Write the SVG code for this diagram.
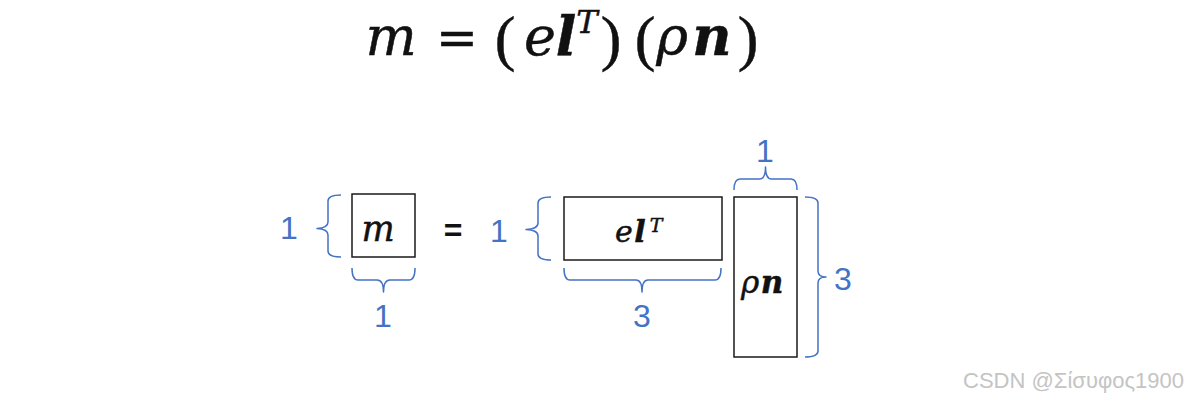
<svg xmlns="http://www.w3.org/2000/svg" width="1187" height="400" viewBox="0 0 1187 400">
<style>
.box{fill:#fff;stroke:#1a1a1a;stroke-width:1.5}
.br{fill:none;stroke:#4472c4;stroke-width:1.5;stroke-linejoin:round}
.num{font-family:"Liberation Sans",Arial,sans-serif;font-size:32px;fill:#4472c4;text-anchor:middle}
.math{font-family:"DejaVu Serif","Liberation Serif",serif;font-style:italic;fill:#111;stroke:#111;stroke-width:0.5}
.b{font-weight:bold}
.p{font-style:normal;font-family:"Liberation Serif",serif;font-size:62px}
.wm{font-family:"Liberation Sans",Arial,sans-serif;font-size:22px;fill:#c4c4c4;text-anchor:end}
</style>
<rect width="1187" height="400" fill="#fff"/>
<g id="title">
<text class="math" font-size="54" y="55" text-anchor="middle"><tspan x="391">m</tspan><tspan x="457" font-style="normal" font-size="50">=</tspan><tspan x="505" y="59" class="p">(</tspan><tspan x="540" y="55">e</tspan><tspan x="566" class="b">l</tspan><tspan x="587" y="33" font-size="32">T</tspan><tspan x="611" y="59" class="p">)</tspan><tspan x="645" class="p">(</tspan><tspan x="672" y="55">ρ</tspan><tspan x="712" class="b">n</tspan><tspan x="748" y="59" class="p">)</tspan></text>
</g>
<g id="node-m">
<rect class="box" x="352" y="194" width="63" height="63"/>
<text class="math" font-size="35" x="378" y="241" text-anchor="middle">m</text>
</g>
<g id="equals">
<text font-family="Liberation Sans,Arial,sans-serif" font-size="32" font-weight="bold" x="453" y="241" text-anchor="middle" fill="#111">=</text>
</g>
<g id="node-elT">
<rect class="box" x="564" y="197" width="158" height="63"/>
<text class="math" font-size="30" y="242" text-anchor="middle"><tspan x="624">e</tspan><tspan x="640" class="b">l</tspan><tspan x="656" y="232" font-size="19">T</tspan></text>
</g>
<g id="node-rhon">
<rect class="box" x="734" y="197" width="63" height="160"/>
<text class="math" font-size="31" y="293" text-anchor="middle"><tspan x="750">ρ</tspan><tspan x="772" class="b">n</tspan></text>
</g>
<g id="connectors">
<path class="br" d="M341,195 Q328,195 328,201 L328,222 Q328,228 317,228.5 Q328,229 328,235 L328,251 Q328,257 341,257"/>
<path class="br" d="M352,268 Q352,280 358,280 L377,280 Q383.5,280 383.5,292 Q383.5,280 390,280 L409,280 Q415,280 415,268"/>
<path class="br" d="M551,197 Q538,197 538,203 L538,223 Q538,229 526,229.5 Q538,230 538,236 L538,254 Q538,260 551,260"/>
<path class="br" d="M564,268 Q564,280 570,280 L636,280 Q642,280 642,292 Q642,280 648,280 L715,280 Q721,280 721,268"/>
<path class="br" d="M734,190 Q734,179 740,179 L759.5,179 Q765.5,179 765.5,167 Q765.5,179 771.5,179 L791,179 Q797,179 797,190"/>
<path class="br" d="M805,197 Q818,197 818,203 L818,271 Q818,277 826,277 Q818,277 818,283 L818,351 Q818,357 805,357"/>
</g>
<g id="labels">
<text class="num" x="289" y="239">1</text>
<text class="num" x="383" y="327">1</text>
<text class="num" x="499" y="242">1</text>
<text class="num" x="642" y="327">3</text>
<text class="num" x="765" y="162">1</text>
<text class="num" x="843" y="290">3</text>
</g>
<text class="wm" x="1184" y="388">CSDN @Σίσυφος1900</text>
</svg>
